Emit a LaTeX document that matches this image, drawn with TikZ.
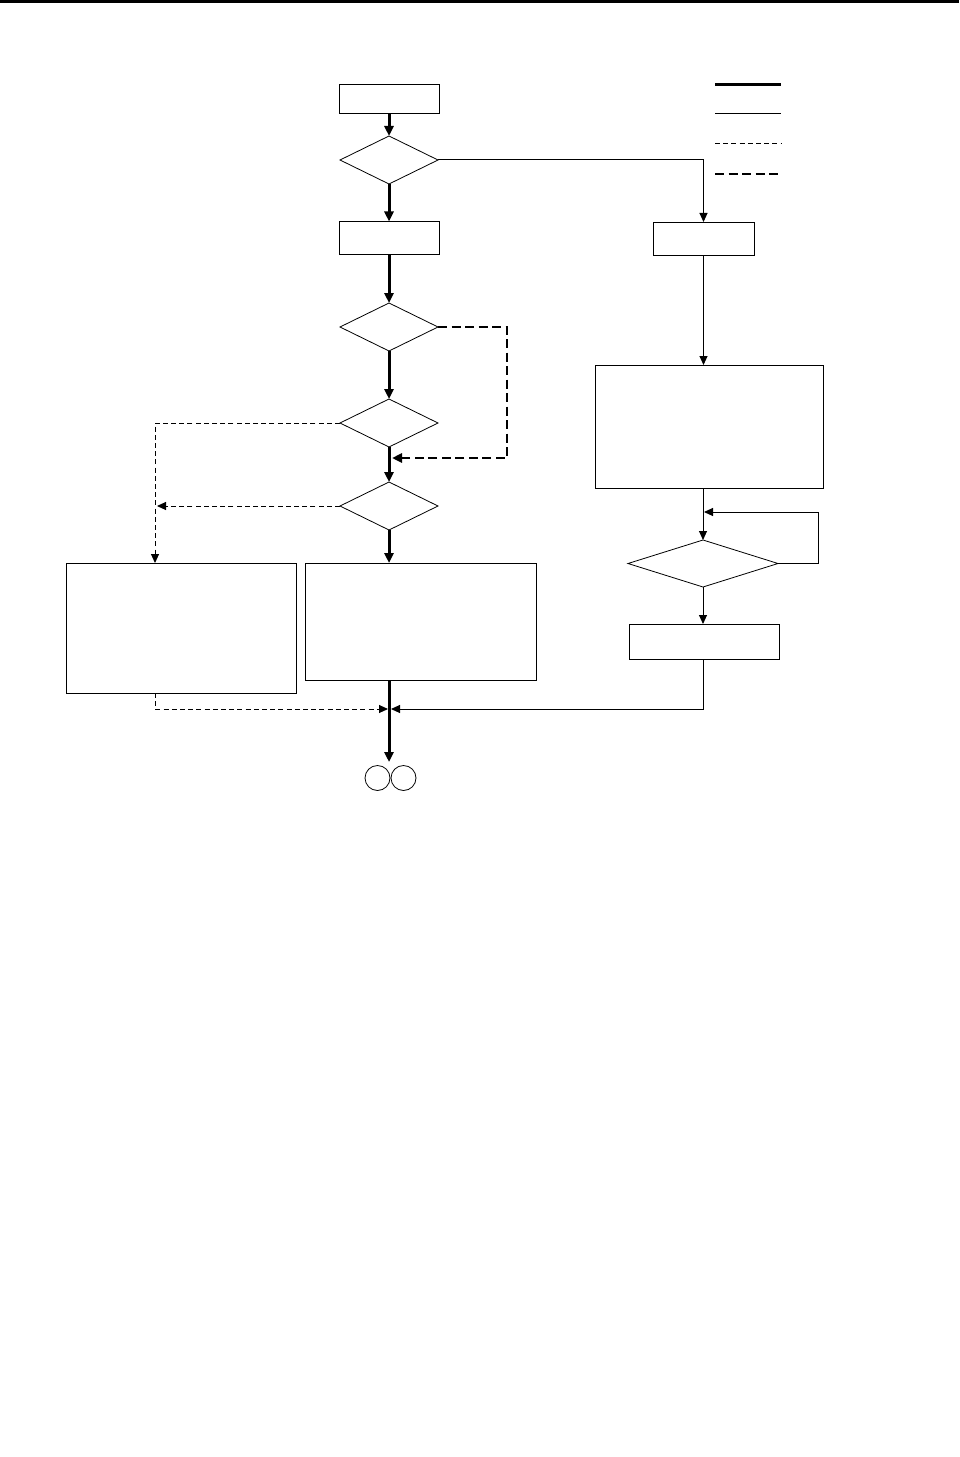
\documentclass[tikz,border=0pt]{standalone}
\usepackage{tikz}
\usetikzlibrary{shapes.geometric,arrows.meta}

\tikzset{
  box/.style={draw,line width=1bp,inner sep=0pt,outer sep=0pt},
  test/.style={draw,diamond,line width=0.8bp,inner sep=0pt,outer sep=0pt},
  mainpath/.style={line width=3bp,-{Triangle[length=10bp,width=9bp]}},
  sidepath/.style={line width=1bp,-{Triangle[length=9bp,width=8bp]}},
  altpath/.style={line width=1bp,dash pattern=on 5bp off 3.2bp,-{Triangle[length=9bp,width=8bp]}},
  skippath/.style={line width=2.6bp,dash pattern=on 9bp off 4.5bp,-{Triangle[length=10bp,width=9bp]}},
}

\begin{document}
\begin{tikzpicture}[x=1bp,y=-1bp]
\useasboundingbox (0,0) rectangle (959,1457);
\draw[line width=3bp] (0,1.5) -- (959,1.5);
% legend
\draw[line width=3bp] (715,85) -- (781,85);
\draw[line width=1bp] (715,114) -- (781,114);
\draw[line width=1bp,dash pattern=on 5bp off 3.2bp] (715,144) -- (781,144);
\draw[line width=2.6bp,dash pattern=on 9bp off 4.5bp] (715,174) -- (781,174);
% main column
\node[box,minimum width=100bp,minimum height=29bp] (start) at (389,99.5) {};
\node[test,minimum width=98bp,minimum height=48bp] (d1) at (389,160) {};
\node[box,minimum width=100bp,minimum height=33bp] (b2) at (389,238) {};
\node[test,minimum width=98bp,minimum height=48bp] (d2) at (389,327) {};
\node[test,minimum width=98bp,minimum height=48bp] (d3) at (389,423) {};
\node[test,minimum width=98bp,minimum height=48bp] (d4) at (389,506) {};
\node[box,minimum width=229bp,minimum height=130bp] (bl) at (181.5,628) {};
\node[box,minimum width=231bp,minimum height=117bp] (bm) at (420.5,621.5) {};
\node[draw,circle,line width=0.8bp,minimum size=25bp,inner sep=0pt] (c1) at (377.5,778) {};
\node[draw,circle,line width=0.8bp,minimum size=25bp,inner sep=0pt] (c2) at (403.5,778) {};
% right column
\node[box,minimum width=101bp,minimum height=33bp] (r1) at (703.5,238.5) {};
\node[box,minimum width=228bp,minimum height=123bp] (r2) at (709.5,426.5) {};
\node[test,minimum width=150bp,minimum height=47bp] (dr) at (703,563.5) {};
\node[box,minimum width=150bp,minimum height=35bp] (r3) at (704,641.5) {};
% joints
\coordinate (j1) at (392,458);
\coordinate (j2) at (157,506);
\coordinate (j3) at (388,709);
\coordinate (j4) at (391,709);
\coordinate (j5) at (704,512);
\coordinate (tip) at (389,762);
% connectors
\draw[mainpath] (start) -- (d1);
\draw[mainpath] (d1) -- (b2);
\draw[mainpath] (b2) -- (d2);
\draw[mainpath] (d2) -- (d3);
\draw[mainpath] (d3) -- (d4);
\draw[mainpath] (d4) -- (d4.south |- bm.north);
\draw[mainpath] (bm.south -| tip) -- (tip);
\draw[sidepath] (d1.east) -| (r1.north);
\draw[sidepath] (r1) -- (r1.south |- r2.north);
\draw[sidepath] (r2.south -| dr.north) -- (dr);
\draw[sidepath] (dr) -- (dr.south |- r3.north);
\draw[sidepath] (dr.east) -| (818,512) -- (j5);
\draw[sidepath] (r3.south -| dr.south) |- (j4);
\draw[skippath] (d2.east) -| (507,458) -- (j1);
\draw[altpath] (d3.west) -| (155,563);
\draw[altpath] (d4.west) -- (j2);
\draw[altpath] (bl.south -| 155,0) |- (j3);
\end{tikzpicture}
\end{document}
